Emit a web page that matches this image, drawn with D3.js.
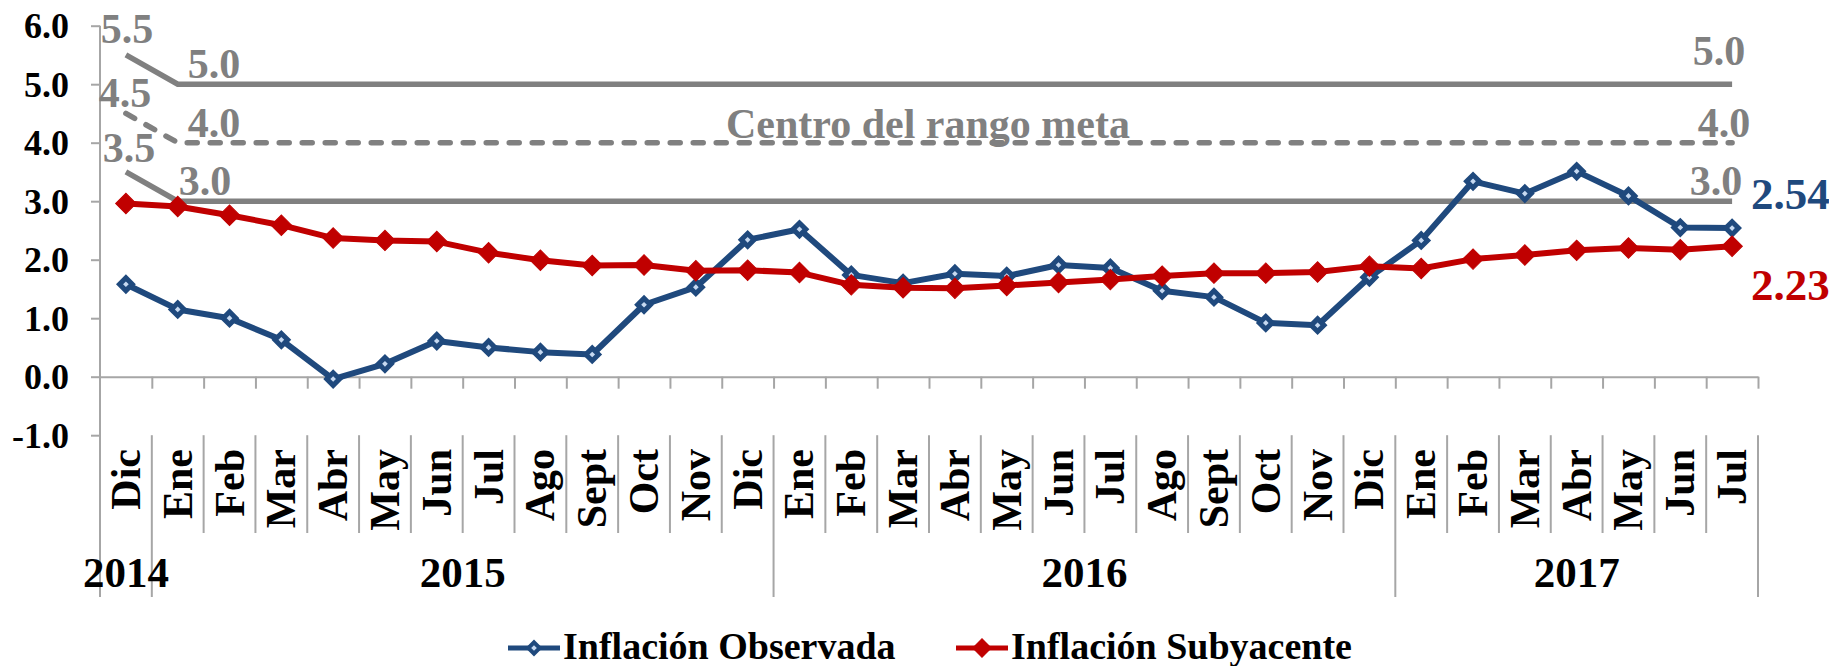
<!DOCTYPE html>
<html lang="es">
<head>
<meta charset="utf-8">
<style>
  body { margin: 0; background: #fff; }
  svg text { font-family: "Liberation Serif", "Times New Roman", serif; font-weight: bold; }
</style>
</head>
<body>
<script src="https://cdn.jsdelivr.net/npm/d3@7"></script>
<script>

// meses (Dic 2014 - Jul 2017)
var meses = ["Dic","Ene","Feb","Mar","Abr","May","Jun","Jul","Ago","Sept","Oct","Nov",
             "Dic","Ene","Feb","Mar","Abr","May","Jun","Jul","Ago","Sept","Oct","Nov",
             "Dic","Ene","Feb","Mar","Abr","May","Jun","Jul"];

var anios = ["2014", "2015", "2016", "2017"];
var anioInicio = [0, 1, 13, 25];
var anioFin = [1, 13, 25, 32];

var observada = [1.58, 1.15, 1.00, 0.63, -0.04, 0.22, 0.61, 0.50, 0.42, 0.38, 1.23, 1.53,
                 2.34, 2.52, 1.74, 1.60, 1.76, 1.72, 1.91, 1.86, 1.47, 1.36, 0.92, 0.88,
                 1.70, 2.33, 3.34, 3.13, 3.51, 3.09, 2.55, 2.54];
var subyacente = [2.96, 2.91, 2.76, 2.59, 2.37, 2.33, 2.31, 2.12, 1.99, 1.90, 1.91, 1.81,
                  1.82, 1.78, 1.57, 1.52, 1.51, 1.56, 1.61, 1.66, 1.72, 1.77, 1.77, 1.79,
                  1.89, 1.85, 2.01, 2.08, 2.16, 2.20, 2.17, 2.23];

// rango meta
var metaIdx = [0, 1, 31];
var metaSup = [5.5, 5.0, 5.0];
var metaCentro = [4.5, 4.0, 4.0];
var metaInf = [3.5, 3.0, 3.0];

var yTicks = [-1, 0, 1, 2, 3, 4, 5, 6];

var width = 1829, height = 666;
var left = 100, right = 1758;
var gris = "#808080", azul = "#1F497D", rojo = "#C00000", ejeColor = "#A6A6A6";

var svg = d3.select("body").append("svg")
    .attr("width", width)
    .attr("height", height);

var x = d3.scaleBand().domain(d3.range(meses.length)).range([left, right]);
var xb = d3.scaleLinear().domain([0, meses.length]).range([left, right]);
var y = d3.scaleLinear().domain([-1, 6]).range([435.2, 25.7]);
var xc = function(i) { return x(i) + x.bandwidth() / 2; };

// eje Y
var yAxis = svg.append("g")
    .attr("transform", "translate(" + left + ",0)")
    .call(d3.axisLeft(y).tickValues(yTicks).tickFormat(function(d) { return d.toFixed(1); }).tickSize(9).tickSizeOuter(0));
yAxis.select(".domain").remove();
yAxis.selectAll("line").attr("stroke", ejeColor).attr("stroke-width", 2);
yAxis.selectAll("text")
    .attr("x", -31)
    .attr("dy", "0.34em")
    .attr("font-size", 36)
    .attr("fill", "#000");

svg.append("line")
    .attr("x1", left).attr("x2", left)
    .attr("y1", y(6)).attr("y2", 597)
    .attr("stroke", ejeColor).attr("stroke-width", 2);

// eje X en cero
var xAxis = svg.append("g")
    .attr("transform", "translate(0," + y(0) + ")")
    .call(d3.axisBottom(xb).tickValues(d3.range(1, meses.length + 1)).tickFormat("").tickSize(12).tickSizeOuter(0));
xAxis.select(".domain").attr("stroke", ejeColor).attr("stroke-width", 2);
xAxis.selectAll("line").attr("stroke", ejeColor).attr("stroke-width", 2);

// separadores de meses y años
svg.append("g").selectAll("line")
    .data(d3.range(1, meses.length + 1))
    .enter().append("line")
    .attr("x1", function(d) { return xb(d); })
    .attr("x2", function(d) { return xb(d); })
    .attr("y1", y(-1))
    .attr("y2", function(d) { return anioFin.indexOf(d) >= 0 ? 597 : 533; })
    .attr("stroke", ejeColor).attr("stroke-width", 2);

svg.append("g").selectAll("text")
    .data(meses)
    .enter().append("text")
    .attr("transform", function(d, i) { return "translate(" + (xc(i) + 14) + ",449) rotate(-90)"; })
    .attr("text-anchor", "end")
    .attr("font-size", 42)
    .attr("fill", "#000")
    .text(function(d) { return d; });

svg.append("g").selectAll("text")
    .data(anios)
    .enter().append("text")
    .attr("x", function(d, i) { return i == 0 ? xc(0) : (xb(anioInicio[i]) + xb(anioFin[i])) / 2; })
    .attr("y", 587)
    .attr("text-anchor", "middle")
    .attr("font-size", 43)
    .attr("fill", "#000")
    .text(function(d) { return d; });

// rango meta
var metaLine = d3.line()
    .x(function(d, i) { return xc(metaIdx[i]); })
    .y(function(d) { return y(d); });

[metaSup, metaCentro, metaInf].forEach(function(serie, k) {
  svg.append("path")
      .attr("d", metaLine(serie))
      .attr("fill", "none")
      .attr("stroke", gris)
      .attr("stroke-width", 5.5)
      .attr("stroke-linecap", k == 1 ? "round" : "butt")
      .attr("stroke-dasharray", k == 1 ? "10,13" : null);
});

var etiquetasMeta = [
  {v: metaSup[0], x: 127, dy: -12}, {v: metaCentro[0], x: 125, dy: -6}, {v: metaInf[0], x: 129, dy: -10},
  {v: metaSup[1], x: 214, dy: -6}, {v: metaCentro[1], x: 214, dy: -6}, {v: metaInf[1], x: 205, dy: -6},
  {v: metaSup[2], x: 1719, dy: -19}, {v: metaCentro[2], x: 1724, dy: -6}, {v: metaInf[2], x: 1716, dy: -6}
];
svg.append("g").selectAll("text")
    .data(etiquetasMeta)
    .enter().append("text")
    .attr("x", function(d) { return d.x; })
    .attr("y", function(d) { return y(d.v) + d.dy; })
    .attr("text-anchor", "middle")
    .attr("font-size", 42)
    .attr("fill", gris)
    .text(function(d) { return d.v.toFixed(1); });

svg.append("text")
    .attr("x", 928)
    .attr("y", y(4) - 5)
    .attr("text-anchor", "middle")
    .attr("font-size", 42)
    .attr("fill", gris)
    .text("Centro del rango meta");

// series
var linea = d3.line()
    .x(function(d, i) { return xc(i); })
    .y(function(d) { return y(d); });

var rombo = d3.symbol().type(d3.symbolSquare);

function serie(datos, color, relleno, area, borde) {
  svg.append("path")
      .attr("d", linea(datos))
      .attr("fill", "none")
      .attr("stroke", color)
      .attr("stroke-width", 6)
      .attr("stroke-linejoin", "round");
  svg.append("g").selectAll("path")
      .data(datos)
      .enter().append("path")
      .attr("transform", function(d, i) { return "translate(" + xc(i) + "," + y(d) + ") rotate(45)"; })
      .attr("d", rombo.size(area))
      .attr("fill", relleno)
      .attr("stroke", color)
      .attr("stroke-width", borde);
}

serie(observada, azul, "#C6D9F1", 81, 5);
serie(subyacente, rojo, rojo, 210, 1);

svg.append("text")
    .attr("x", 1751)
    .attr("y", 209)
    .attr("font-size", 45)
    .attr("fill", azul)
    .text(observada[observada.length - 1].toFixed(2));

svg.append("text")
    .attr("x", 1751)
    .attr("y", 300)
    .attr("font-size", 45)
    .attr("fill", rojo)
    .text(subyacente[subyacente.length - 1].toFixed(2));

// leyenda
var leyenda = svg.append("g")
    .selectAll("g")
    .data([{nombre: "Inflación Observada", color: azul, relleno: "#C6D9F1", area: 64, borde: 4, x: 508},
           {nombre: "Inflación Subyacente", color: rojo, relleno: rojo, area: 170, borde: 1, x: 956}])
    .enter().append("g")
    .attr("transform", function(d) { return "translate(" + d.x + ",648)"; });

leyenda.append("line")
    .attr("x1", 0).attr("x2", 52)
    .attr("stroke", function(d) { return d.color; })
    .attr("stroke-width", 5);

leyenda.append("path")
    .attr("transform", "translate(26,0) rotate(45)")
    .attr("d", function(d) { return rombo.size(d.area)(); })
    .attr("fill", function(d) { return d.relleno; })
    .attr("stroke", function(d) { return d.color; })
    .attr("stroke-width", function(d) { return d.borde; });

leyenda.append("text")
    .attr("x", 55)
    .attr("y", 11)
    .attr("font-size", 38)
    .attr("fill", "#000")
    .text(function(d) { return d.nombre; });

</script>
</body>
</html>
